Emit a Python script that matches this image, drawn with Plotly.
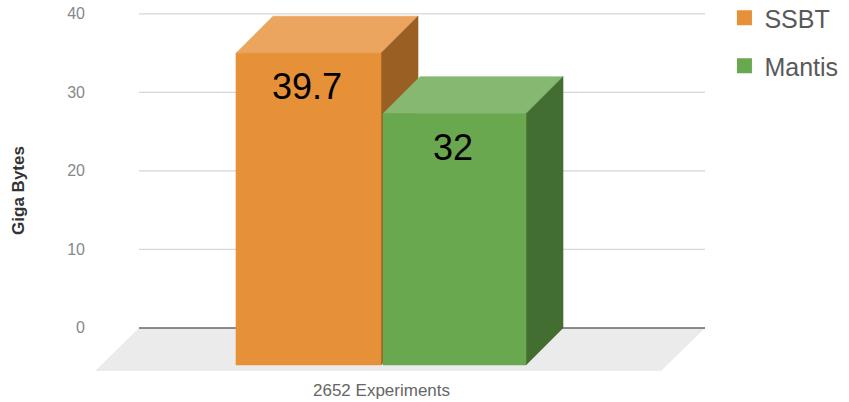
import plotly.graph_objects as go

# ---- data ----
categories = ["2652 Experiments"]
series_names = ["SSBT", "Mantis"]
series_values = [39.7, 32]
tick_values = [0, 10, 20, 30, 40]
tick_labels = ["0", "10", "20", "30", "40"]

# ---- styles ----
front_colors = ["#E69138", "#6AA84F"]
top_colors = ["#EBA55F", "#87B872"]
side_colors = ["#995F23", "#436E32"]
FONT = "Liberation Sans, Arial"

W, H = 849, 402
ml, mr, mt, mb = 90, 137, 6, 27
yr = [-6.0, 41.0]
pxu_y = (H - mt - mb) / (yr[1] - yr[0])
bar_w_px = 145.0
x_center_px = 381.0
pxu_x = bar_w_px  # one x unit = one bar width
xr = [(ml - x_center_px) / pxu_x, (W - mr - x_center_px) / pxu_x]

# depth of bars (3D offset)
ddx = 37 / pxu_x
ddy = 37 / pxu_y
# depth of floor
fdx = 44 / pxu_x
fdy = 43 / pxu_y
# back plane extent
back_x0 = (139 - x_center_px) / pxu_x
back_x1 = (705 - x_center_px) / pxu_x
gap = 2 / pxu_x

fig = go.Figure()

# floor (below traces)
fx = [back_x0, back_x1, back_x1 - fdx, back_x0 - fdx]
fy = [0, 0, -fdy, -fdy]
path = "M " + " L ".join(f"{a},{b}" for a, b in zip(fx, fy)) + " Z"
fig.add_shape(type="path", path=path, xref="x", yref="y", layer="below",
              fillcolor="#EBEBEB", line=dict(width=0))

# gridlines on back plane (below traces)
for tv in tick_values:
    fig.add_shape(type="line", xref="x", yref="y", layer="below",
                  x0=back_x0, x1=back_x1, y0=tv, y1=tv,
                  line=dict(color="#666666" if tv == 0 else "#D6D6D6",
                            width=1.5 if tv == 0 else 1.2))


def face(xs, ys, color):
    fig.add_trace(go.Scatter(x=xs + [xs[0]], y=ys + [ys[0]], fill="toself",
                             fillcolor=color, line=dict(width=0.6, color=color),
                             mode="lines", hoverinfo="skip", showlegend=False))


# 3D bars, drawn back-to-front, left-to-right
n = len(series_values)
for i, (name, v) in enumerate(zip(series_names, series_values)):
    x0 = -1.0 + i * (1.0 + gap)
    x1 = x0 + 1.0 - (gap if i == n - 1 else 0)
    cx = (x0 + x1) / 2
    # top face
    face([x0, x0 + ddx, x1 + ddx, x1], [v - ddy, v, v, v - ddy], top_colors[i])
    # side face
    face([x1, x1 + ddx, x1 + ddx, x1], [-ddy, 0, v, v - ddy], side_colors[i])
    # front face
    face([x0, x1, x1, x0], [-ddy, -ddy, v - ddy, v - ddy], front_colors[i])
    # value label
    fig.add_annotation(x=cx, y=v - ddy, text=f"{v:g}", showarrow=False,
                       yanchor="top", yshift=-11, xshift=-2,
                       font=dict(family=FONT, size=36, color="#000000"))
    # legend entry
    fig.add_trace(go.Scatter(x=[None], y=[None], mode="markers", name=name,
                             marker=dict(symbol="square", size=15, color=front_colors[i]),
                             legend="legend" if i == 0 else "legend2"))

# category label
fig.add_annotation(x=0, y=-fdy, text=categories[0], showarrow=False,
                   yanchor="top", yshift=-8,
                   font=dict(family=FONT, size=17, color="#666666"))

legend_style = dict(font=dict(family=FONT, size=25, color="#595959"),
                    bgcolor="rgba(0,0,0,0)", xanchor="left", yanchor="middle",
                    itemwidth=30, tracegroupgap=0)

fig.update_layout(
    width=W, height=H,
    margin=dict(l=ml, r=mr, t=mt, b=mb, autoexpand=False),
    paper_bgcolor="white", plot_bgcolor="white",
    xaxis=dict(range=xr, showgrid=False, zeroline=False, showticklabels=False,
               showline=False, fixedrange=True, automargin=False),
    yaxis=dict(range=yr, tickvals=tick_values, ticktext=tick_labels,
               showgrid=False, zeroline=False, showline=False, automargin=False,
               tickfont=dict(family=FONT, size=16, color="#888888"),
               ticklabelstandoff=4,
               title=dict(text="<b>Giga Bytes</b>", standoff=38,
                          font=dict(family=FONT, size=17, color="#333333"))),
    legend=dict(x=1.02, y=(H - mb - 18) / (H - mt - mb), **legend_style),
    legend2=dict(x=1.02, y=(H - mb - 66) / (H - mt - mb), **legend_style),
)

fig.write_html("out.html")
